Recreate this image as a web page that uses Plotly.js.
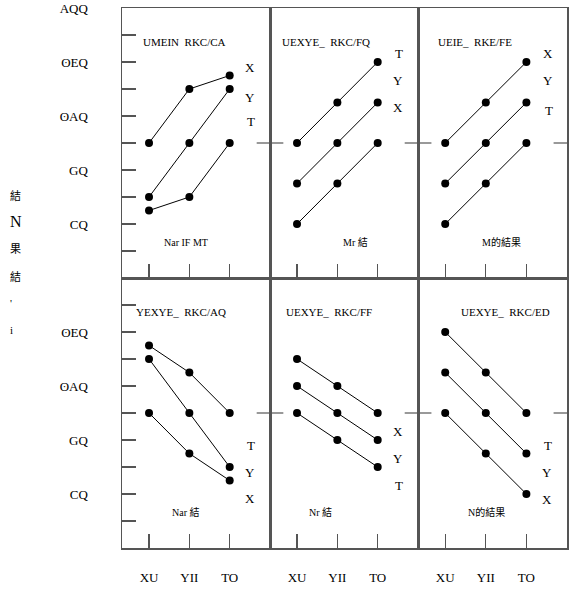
<!DOCTYPE html>
<html><head><meta charset="utf-8">
<script src="https://cdn.plot.ly/plotly-3.0.1.min.js"></script>
<style>html,body{margin:0;padding:0;background:#fff;}#chart{width:574px;height:589px;}</style>
</head><body><div id="chart"></div>
<script>
// ---- data ----
const xCats = [0, 1, 2];
const xLabels = ["XU", "YII", "TO"];
const yTopVals = [10,20,30,40,50,60,70,80,90,100];
const yTopText = ["","CQ","","GQ","","ʘAQ","","ʘEQ","","AQQ"];
const yBotVals = [10,20,30,40,50,60,70,80,90];
const yBotText = ["","CQ","","GQ","","ʘAQ","","ʘEQ",""];

const tlA = [50, 70, 75], tlB = [30, 50, 70], tlC = [25, 30, 50];
const tmA = [50, 65, 80], tmB = [35, 50, 65], tmC = [20, 35, 50];
const trA = [50, 65, 80], trB = [35, 50, 65], trC = [20, 35, 50];
const blA = [75, 65, 50], blB = [70, 50, 30], blC = [50, 35, 25];
const bmA = [70, 60, 50], bmB = [60, 50, 40], bmC = [50, 40, 30];
const brA = [80, 65, 50], brB = [65, 50, 35], brC = [50, 35, 20];

const panelTitles = ["UMEIN  RKC/CA", "UEXYE_  RKC/FQ", "UEIE_  RKE/FE", "YEXYE_  RKC/AQ", "UEXYE_  RKC/FF", "UEXYE_  RKC/ED"];
const panelNotes = ["Nar IF MT", "Mr 結", "M的結果", "Nar 結", "Nr 結", "N的結果"];
const seriesTags = [["X","Y","T"],["T","Y","X"],["X","Y","T"],["T","Y","X"],["X","Y","T"],["T","Y","X"]];
const yTitleChars = ["結", "N", "果", "結", "'", "i"];

// ---- layout helpers ----
const panels = [[tlA,tlB,tlC],[tmA,tmB,tmC],[trA,trB,trC],[blA,blB,blC],[bmA,bmB,bmC],[brA,brB,brC]];
const xDom = [[0, 0.3326], [0.3326, 0.6652], [0.6652, 1]];
const yDom = [[0.5, 1], [0, 0.5]];
const titlePos = [0.42, 0.375, 0.38, 0.40, 0.40, 0.585];
const notePos = [0.43, 0.58, 0.56, 0.43, 0.34, 0.32];
const tagX = [0.91, 0.91, 0.92, 0.91, 0.91, 0.91];
const tagY = [[78,67,58],[83,73,63],[83,73,62],[38,28,18.5],[43,33,23],[38,28,18]];

const traces = [], annotations = [], shapes = [];
const layout = {
  width: 574, height: 589,
  margin: {l: 122, r: 7, t: 8, b: 41},
  paper_bgcolor: "#fff", plot_bgcolor: "#fff",
  showlegend: false,
  font: {family: "Liberation Serif, DejaVu Serif, Noto Sans CJK SC", color: "#000", size: 12}
};
const lineCol = "#555";

panels.forEach((series, i) => {
  const row = Math.floor(i / 3), col = i % 3;
  const n = i + 1;
  const xa = n === 1 ? "xaxis" : "xaxis" + n;
  const ya = n === 1 ? "yaxis" : "yaxis" + n;
  const xr = n === 1 ? "x" : "x" + n;
  const yr = n === 1 ? "y" : "y" + n;
  series.forEach(s => {
    traces.push({x: xCats, y: s, xaxis: xr, yaxis: yr, type: "scatter", mode: "lines+markers",
      line: {color: "#000", width: 1}, marker: {color: "#000", size: 8}, hoverinfo: "skip"});
  });
  layout[xa] = {
    domain: xDom[col], anchor: yr, range: [-0.67, 3.0],
    tickvals: xCats, ticktext: xLabels, ticks: "inside", ticklen: 14, tickcolor: lineCol, tickwidth: 1.2,
    showticklabels: row === 1, ticklabelstandoff: 17, tickfont: {size: 13},
    showline: true, mirror: true, linecolor: lineCol, linewidth: 1.5,
    showgrid: false, zeroline: false, fixedrange: true
  };
  layout[ya] = {
    domain: yDom[row], anchor: xr, range: [0, 100],
    tickvals: row === 0 ? yTopVals : yBotVals,
    ticktext: row === 0 ? yTopText : yBotText,
    ticks: col === 0 ? "inside" : "", ticklen: 14, tickcolor: lineCol, tickwidth: 1.2,
    showticklabels: col === 0, ticklabelstandoff: 30, tickfont: {size: 13},
    showline: true, mirror: true, linecolor: lineCol, linewidth: 1.5,
    showgrid: false, zeroline: false, fixedrange: true
  };
  // mid ticks at 50 on both sides
  shapes.push({type: "line", xref: xr + " domain", yref: yr, x0: 0, x1: 0.09, y0: 50, y1: 50, line: {color: lineCol, width: 1.2}});
  shapes.push({type: "line", xref: xr + " domain", yref: yr, x0: 0.91, x1: 1, y0: 50, y1: 50, line: {color: lineCol, width: 1.2}});
  annotations.push({xref: xr + " domain", yref: yr, x: titlePos[i], y: 87.4, text: panelTitles[i], showarrow: false, font: {size: 11}});
  annotations.push({xref: xr + " domain", yref: yr, x: notePos[i], y: 13.3, text: panelNotes[i], showarrow: false, font: {size: 10, family: "Liberation Serif, Noto Sans CJK SC"}});
  seriesTags[i].forEach((t, k) => {
    annotations.push({xref: xr + " domain", yref: yr, x: tagX[i], y: tagY[i][k], text: t, showarrow: false, font: {size: 13}});
  });
});

yTitleChars.forEach((c, k) => {
  annotations.push({xref: "paper", yref: "paper", x: (8 - 122) / 445, y: (548 - (195 + k * 27)) / 540,
    text: c, showarrow: false, font: {size: k === 1 ? 16 : 11, family: "Liberation Serif, Noto Sans CJK SC"}});
});

layout.annotations = annotations;
layout.shapes = shapes;
Plotly.newPlot("chart", traces, layout, {staticPlot: true, displayModeBar: false});
</script></body></html>
